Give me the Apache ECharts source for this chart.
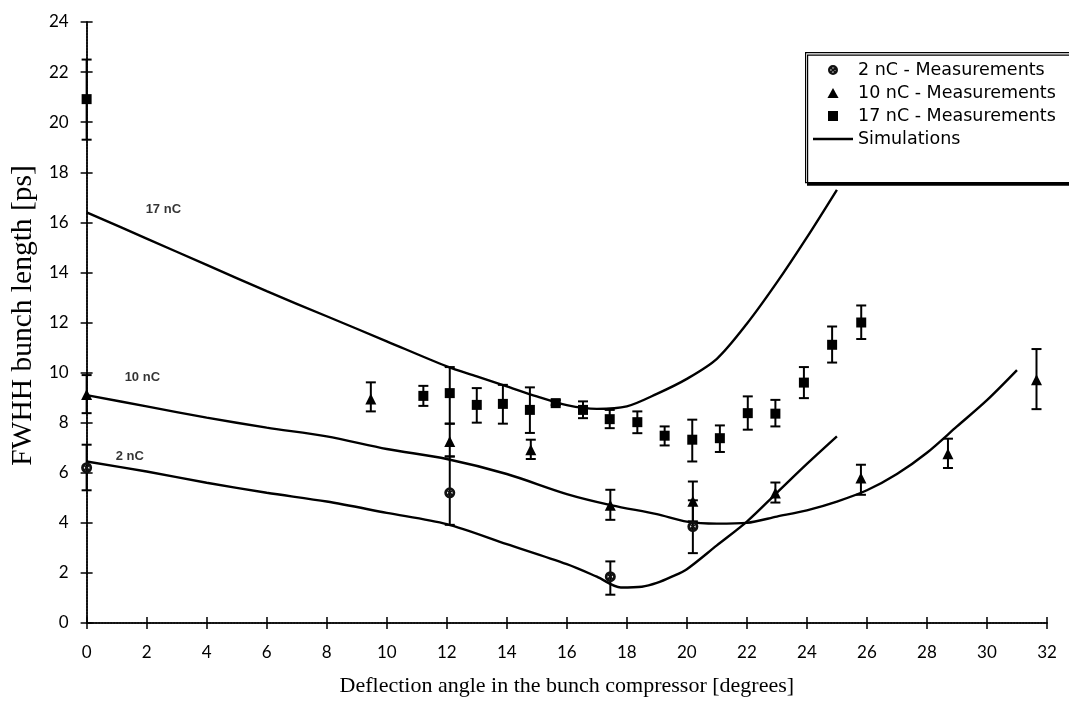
<!DOCTYPE html>
<html><head><meta charset="utf-8">
<script src="https://cdn.jsdelivr.net/npm/echarts@6/dist/echarts.min.js"></script>
<style>html,body{margin:0;padding:0;background:#fff}#c{width:1069px;height:709px}</style>
</head><body><div id="c"></div>
<script>
// ---- axis ticks ----
const xTicks = [0,2,4,6,8,10,12,14,16,18,20,22,24,26,28,30,32];
const yTicks = [0,2,4,6,8,10,12,14,16,18,20,22,24];

// ---- 2 nC measurements ----
const m2X  = [0, 12.1, 17.45, 20.2];
const m2Y  = [6.2, 5.2, 1.85, 3.85];
const m2Lo = [5.3, 3.92, 1.13, 2.79];
const m2Hi = [7.12, 6.65, 2.46, 4.9];

// ---- 10 nC measurements ----
const m10X  = [0, 9.47, 12.1, 14.8, 17.45, 20.2, 22.95, 25.8, 28.7, 31.65];
const m10Y  = [9.12, 8.95, 7.25, 6.92, 4.7, 4.86, 5.19, 5.79, 6.76, 9.71];
const m10Lo = [8.38, 8.45, 6.65, 6.55, 4.12, 4.06, 4.81, 5.12, 6.19, 8.54];
const m10Hi = [9.9, 9.61, 7.96, 7.32, 5.32, 5.65, 5.61, 6.32, 7.36, 10.94];

// ---- 17 nC measurements ----
const m17X  = [0, 11.22, 12.1, 13.0, 13.87, 14.77, 15.63, 16.54, 17.43, 18.35, 19.26, 20.18, 21.1, 22.03, 22.95, 23.9, 24.84, 25.81];
const m17Y  = [20.92, 9.07, 9.18, 8.71, 8.75, 8.51, 8.78, 8.51, 8.14, 8.02, 7.48, 7.32, 7.38, 8.38, 8.36, 9.6, 11.11, 12.0];
const m17Lo = [19.3, 8.67, 7.96, 8.0, 7.96, 7.59, 8.7, 8.18, 7.78, 7.58, 7.09, 6.45, 6.83, 7.72, 7.85, 8.98, 10.4, 11.34];
const m17Hi = [22.5, 9.47, 10.22, 9.38, 9.51, 9.41, 8.9, 8.85, 8.51, 8.45, 7.85, 8.12, 7.89, 9.05, 8.91, 10.22, 11.84, 12.68];

// ---- simulations ----
const sim17X = [0, 2, 4, 6, 8, 10, 12, 13, 14, 15, 16, 17, 18, 19, 20, 21, 22, 23, 24, 25];
const sim17Y = [16.4, 15.35, 14.3, 13.25, 12.25, 11.25, 10.25, 9.85, 9.45, 9.05, 8.7, 8.55, 8.65, 9.15, 9.75, 10.55, 11.95, 13.6, 15.4, 17.3];
const sim10X = [0, 2, 4, 6, 8, 10, 12, 14, 16, 17.5, 19, 20, 21, 22, 23, 24, 25, 26, 27, 28, 29, 30, 31];
const sim10Y = [9.1, 8.65, 8.2, 7.8, 7.45, 6.95, 6.55, 5.95, 5.15, 4.7, 4.35, 4.05, 3.97, 4.0, 4.25, 4.5, 4.85, 5.3, 5.95, 6.8, 7.85, 8.9, 10.1];
const sim2X  = [0, 2, 4, 6, 8, 10, 12, 14, 16, 17, 17.8, 18.5, 19, 19.5, 20, 21, 22, 23, 24, 25];
const sim2Y  = [6.45, 6.05, 5.6, 5.2, 4.85, 4.4, 3.95, 3.15, 2.35, 1.85, 1.42, 1.45, 1.6, 1.85, 2.15, 3.1, 4.05, 5.2, 6.35, 7.45];

// ---- curve labels ----
const labelText = ['17 nC', '10 nC', '2 nC'];
const labelX = [1.95, 1.25, 0.95];
const labelY = [16.5, 9.8, 6.65];

// ---- legend names ----
const legendNames = ['2 nC - Measurements', '10 nC - Measurements', '17 nC - Measurements', 'Simulations'];

const zip = (a, b) => a.map((v, i) => [v, b[i]]);
const zip3 = (a, b, c) => a.map((v, i) => [v, b[i], c[i]]);

const SANS = 'Lato, "Noto Sans", sans-serif';
const LEG = '"DejaVu Sans", sans-serif';
const SERIF = '"Liberation Serif", "DejaVu Serif", serif';

const crossedCircle = 'path://M10 0A10 10 0 1 1 9.99 0Z M10 5A5 5 0 1 0 10.01 5Z M4 6.3L6.3 4L16 13.7L13.7 16Z M16 6.3L6.3 16L4 13.7L13.7 4Z';
const triIcon = 'path://M5 0L10 9H0Z';
const sqIcon = 'path://M0 0H9V9H0Z';
const lineIcon = 'path://M0 0H40V2.4H0Z';

function errItem(params, api) {
  const x = api.value(0), lo = api.value(1), hi = api.value(2);
  const a = api.coord([x, lo]), b = api.coord([x, hi]);
  const w = 5;
  const style = { stroke: '#000', lineWidth: 2 };
  return { type: 'group', children: [
    { type: 'line', shape: { x1: a[0], y1: a[1], x2: b[0], y2: b[1] }, style: style },
    { type: 'line', shape: { x1: a[0] - w, y1: a[1], x2: a[0] + w, y2: a[1] }, style: style },
    { type: 'line', shape: { x1: b[0] - w, y1: b[1], x2: b[0] + w, y2: b[1] }, style: style }
  ]};
}

const axisCommon = { type: 'value', splitLine: { show: false } };
const chart = echarts.init(document.getElementById('c'));

chart.setOption({
  animation: false,
  backgroundColor: '#fff',
  grid: { left: 86, right: 22, top: 22, bottom: 86 },
  xAxis: [
    Object.assign({}, axisCommon, {
      min: xTicks[0], max: xTicks[xTicks.length - 1], interval: 2, position: 'bottom',
      axisLine: { lineStyle: { color: '#000', width: 1.5 } },
      axisTick: { show: true, length: 6, lineStyle: { color: '#000', width: 1.5 } },
      axisLabel: { color: '#000', fontSize: 17, fontFamily: SANS, margin: 21 },
      name: 'Deflection angle in the bunch compressor [degrees]',
      nameLocation: 'middle', nameGap: 52,
      nameTextStyle: { fontFamily: SERIF, fontSize: 22, color: '#000' }
    }),
    Object.assign({}, axisCommon, {
      min: xTicks[0], max: xTicks[xTicks.length - 1], interval: 2, position: 'bottom',
      axisLine: { show: false },
      axisTick: { show: true, inside: true, length: 6, lineStyle: { color: '#000', width: 1.5 } },
      axisLabel: { show: false }
    }),
    Object.assign({}, axisCommon, {
      min: xTicks[0], max: xTicks[xTicks.length - 1], interval: 2, position: 'top',
      axisLine: { lineStyle: { color: '#000', width: 1.5, type: 'dotted' } },
      axisTick: { show: false }, axisLabel: { show: false }
    })
  ],
  yAxis: [
    Object.assign({}, axisCommon, {
      min: yTicks[0], max: yTicks[yTicks.length - 1], interval: 2, position: 'left',
      axisLine: { lineStyle: { color: '#000', width: 1.5 } },
      axisTick: { show: true, length: 6, lineStyle: { color: '#000', width: 1.5 } },
      axisLabel: { color: '#000', fontSize: 17, fontFamily: SANS, margin: 18 },
      name: 'FWHH bunch length [ps]',
      nameLocation: 'middle', nameGap: 46,
      nameTextStyle: { fontFamily: SERIF, fontSize: 29.5, color: '#000', padding: [0, 0, 0, 14] }
    }),
    Object.assign({}, axisCommon, {
      min: yTicks[0], max: yTicks[yTicks.length - 1], interval: 2, position: 'left',
      axisLine: { show: false },
      axisTick: { show: true, inside: true, length: 6, lineStyle: { color: '#000', width: 1.5 } },
      axisLabel: { show: false }
    }),
    Object.assign({}, axisCommon, {
      min: yTicks[0], max: yTicks[yTicks.length - 1], interval: 2, position: 'right',
      axisLine: { lineStyle: { color: '#000', width: 1.5, type: 'dotted' } },
      axisTick: { show: false }, axisLabel: { show: false }
    })
  ],
  legend: {
    data: [
      { name: legendNames[0] },
      { name: legendNames[1], icon: triIcon },
      { name: legendNames[2], icon: sqIcon },
      { name: legendNames[3], icon: lineIcon }
    ],
    orient: 'vertical', left: 808, top: 56,
    itemWidth: 40, itemHeight: 10, itemGap: 5, z: 10,
    symbolKeepAspect: true,
    textStyle: { color: '#000', fontSize: 17.5, fontFamily: LEG },
    selectedMode: false
  },
  graphic: [{
    type: 'rect', z: 3, left: 805, top: 52,
    shape: { width: 300, height: 130 },
    style: { fill: '#fff', stroke: '#000', lineWidth: 1.2, shadowColor: '#000', shadowOffsetX: 2, shadowOffsetY: 2.5, shadowBlur: 0 }
  }],
  series: [
    { name: 'Simulations', type: 'line', data: zip(sim17X, sim17Y), smooth: 0.3, showSymbol: false, symbol: 'none', lineStyle: { color: '#000', width: 2.4 }, itemStyle: { color: '#000' }, z: 2 },
    { name: 'Simulations', type: 'line', data: zip(sim10X, sim10Y), smooth: 0.3, showSymbol: false, symbol: 'none', lineStyle: { color: '#000', width: 2.4 }, itemStyle: { color: '#000' }, z: 2 },
    { name: 'Simulations', type: 'line', data: zip(sim2X, sim2Y), smooth: 0.3, showSymbol: false, symbol: 'none', lineStyle: { color: '#000', width: 2.4 }, itemStyle: { color: '#000' }, z: 2 },
    { name: 'err2', type: 'custom', renderItem: errItem, data: zip3(m2X, m2Lo, m2Hi), encode: { x: 0, y: [1, 2] }, clip: false, silent: true, z: 3 },
    { name: 'err10', type: 'custom', renderItem: errItem, data: zip3(m10X, m10Lo, m10Hi), encode: { x: 0, y: [1, 2] }, clip: false, silent: true, z: 3 },
    { name: 'err17', type: 'custom', renderItem: errItem, data: zip3(m17X, m17Lo, m17Hi), encode: { x: 0, y: [1, 2] }, clip: false, silent: true, z: 3 },
    { name: legendNames[0], type: 'scatter', data: zip(m2X, m2Y), symbol: crossedCircle, symbolSize: 11, symbolKeepAspect: true, itemStyle: { color: '#111', opacity: 1 }, clip: false, z: 4 },
    { name: legendNames[1], type: 'scatter', data: zip(m10X, m10Y), symbol: 'triangle', symbolSize: 11, symbolKeepAspect: true, itemStyle: { color: '#000', opacity: 1 }, clip: false, z: 4 },
    { name: legendNames[2], type: 'scatter', data: zip(m17X, m17Y), symbol: 'rect', symbolSize: 10, symbolKeepAspect: true, itemStyle: { color: '#000', opacity: 1 }, clip: false, z: 4 },
    { name: 'labels', type: 'scatter', data: labelX.map((x, i) => [x, labelY[i], labelText[i]]),
      symbolSize: 1, itemStyle: { color: 'rgba(0,0,0,0)' }, silent: true, z: 5,
      label: { show: true, position: 'right', distance: 0, formatter: p => p.data[2], color: '#000', fontSize: 13, fontWeight: 'bold', fontFamily: '"Liberation Sans", Arial, sans-serif' } }
  ]
});
</script>
</body></html>
